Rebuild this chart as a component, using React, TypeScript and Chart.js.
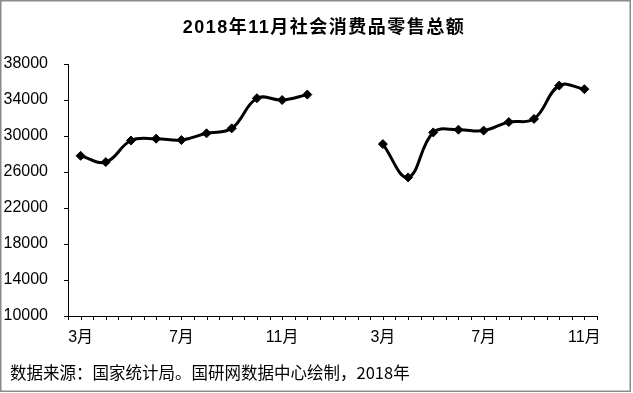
import React, { useEffect, useRef } from "react";
import { Chart, registerables } from "chart.js";

Chart.register(...registerables);

const TITLE = "2018年11月社会消费品零售总额";
const FOOTER = "数据来源：国家统计局。国研网数据中心绘制，2018年";

const months2017 = ["3月", "4月", "5月", "6月", "7月", "8月", "9月", "10月", "11月", "12月"];
const gapMonths = ["1月", "2月"];
const months2018 = ["3月", "4月", "5月", "6月", "7月", "8月", "9月", "10月", "11月"];

const values2017 = [27800, 27100, 29500, 29700, 29550, 30300, 30850, 34200, 34000, 34600];
const gapValues = [null, null];
const values2018 = [29100, 25400, 30400, 30700, 30600, 31550, 31900, 35600, 35200];

const yTicks = [10000, 14000, 18000, 22000, 26000, 30000, 34000, 38000];

const categories = [...months2017, ...gapMonths, ...months2018];
const values = [...values2017, ...gapValues, ...values2018];

const decorPlugin = {
  id: "decor",
  afterDraw(chart: any) {
    const ctx = chart.ctx;
    const x = chart.scales.x;
    const area = chart.chartArea;
    ctx.save();
    // x-axis tick marks (category boundaries and centers)
    ctx.strokeStyle = "#000";
    ctx.lineWidth = 1;
    const n = categories.length * 2;
    const step = (x.right - x.left) / n;
    ctx.beginPath();
    for (let i = 0; i <= n; i++) {
      const px = Math.round(x.left + i * step) + 0.5;
      ctx.moveTo(px, area.bottom);
      ctx.lineTo(px, area.bottom + 4);
    }
    ctx.stroke();
    // title
    ctx.fillStyle = "#000";
    ctx.font = 'bold 18px "Liberation Sans", "Noto Sans CJK SC", sans-serif';
    (ctx as any).letterSpacing = "1.5px";
    ctx.textAlign = "center";
    ctx.textBaseline = "middle";
    ctx.fillText(TITLE, 324, 28);
    // footer
    (ctx as any).letterSpacing = "0px";
    ctx.font = '16.5px "Noto Sans CJK SC", sans-serif';
    ctx.textAlign = "left";
    ctx.fillText(FOOTER, 10, 373);
    // outer border
    ctx.strokeStyle = "#8a8a8a";
    ctx.lineWidth = 1.5;
    ctx.strokeRect(0.75, 0.75, 629.5, 390.5);
    ctx.restore();
  },
};

export default function App() {
  const ref = useRef<HTMLCanvasElement>(null);

  useEffect(() => {
    if (!ref.current) return;
    Chart.defaults.font.family = '"Liberation Sans", "Noto Sans CJK SC", sans-serif';
    Chart.defaults.color = "#000";
    const chart = new Chart(ref.current, {
      type: "line",
      data: {
        labels: categories,
        datasets: [
          {
            data: values,
            borderColor: "#000",
            backgroundColor: "#000",
            borderWidth: 3,
            tension: 0.4,
            spanGaps: false,
            pointStyle: "rectRot",
            pointRadius: 4.5,
            pointBorderWidth: 1,
            pointBackgroundColor: "#000",
            pointBorderColor: "#000",
          },
        ],
      },
      options: {
        responsive: false,
        animation: false,
        events: [],
        layout: { padding: { top: 64, right: 36, bottom: 0, left: 0 } },
        plugins: {
          legend: { display: false },
          tooltip: { enabled: false },
          title: { display: false },
        },
        scales: {
          x: {
            type: "category",
            offset: true,
            grid: { display: false, drawTicks: false, drawOnChartArea: false },
            border: { display: true, color: "#000", width: 1 },
            ticks: {
              autoSkip: false,
              maxRotation: 0,
              minRotation: 0,
              padding: 12,
              font: { size: 16 },
              color: "#000",
              callback: (_v: any, i: number) => (i % 4 === 0 ? categories[i] : ""),
            },
            afterFit: (s: any) => {
              s.height = 77;
            },
          },
          y: {
            min: 10000,
            max: 38000,
            afterBuildTicks: (s: any) => {
              s.ticks = yTicks.map((v) => ({ value: v }));
            },
            grid: { drawOnChartArea: false, drawTicks: true, tickLength: 4, color: "#000" },
            border: { display: true, color: "#000", width: 1 },
            ticks: {
              padding: 16,
              font: { size: 16 },
              color: "#000",
              callback: (v: any) => String(v),
            },
            afterFit: (s: any) => {
              s.width = 68;
            },
          },
        },
      },
      plugins: [decorPlugin],
    });
    return () => chart.destroy();
  }, []);

  return (
    <div style={{ position: "fixed", left: 0, top: 0, width: 633, height: 393, background: "#fff" }}>
      <canvas ref={ref} width={633} height={393} style={{ display: "block" }} />
    </div>
  );
}
